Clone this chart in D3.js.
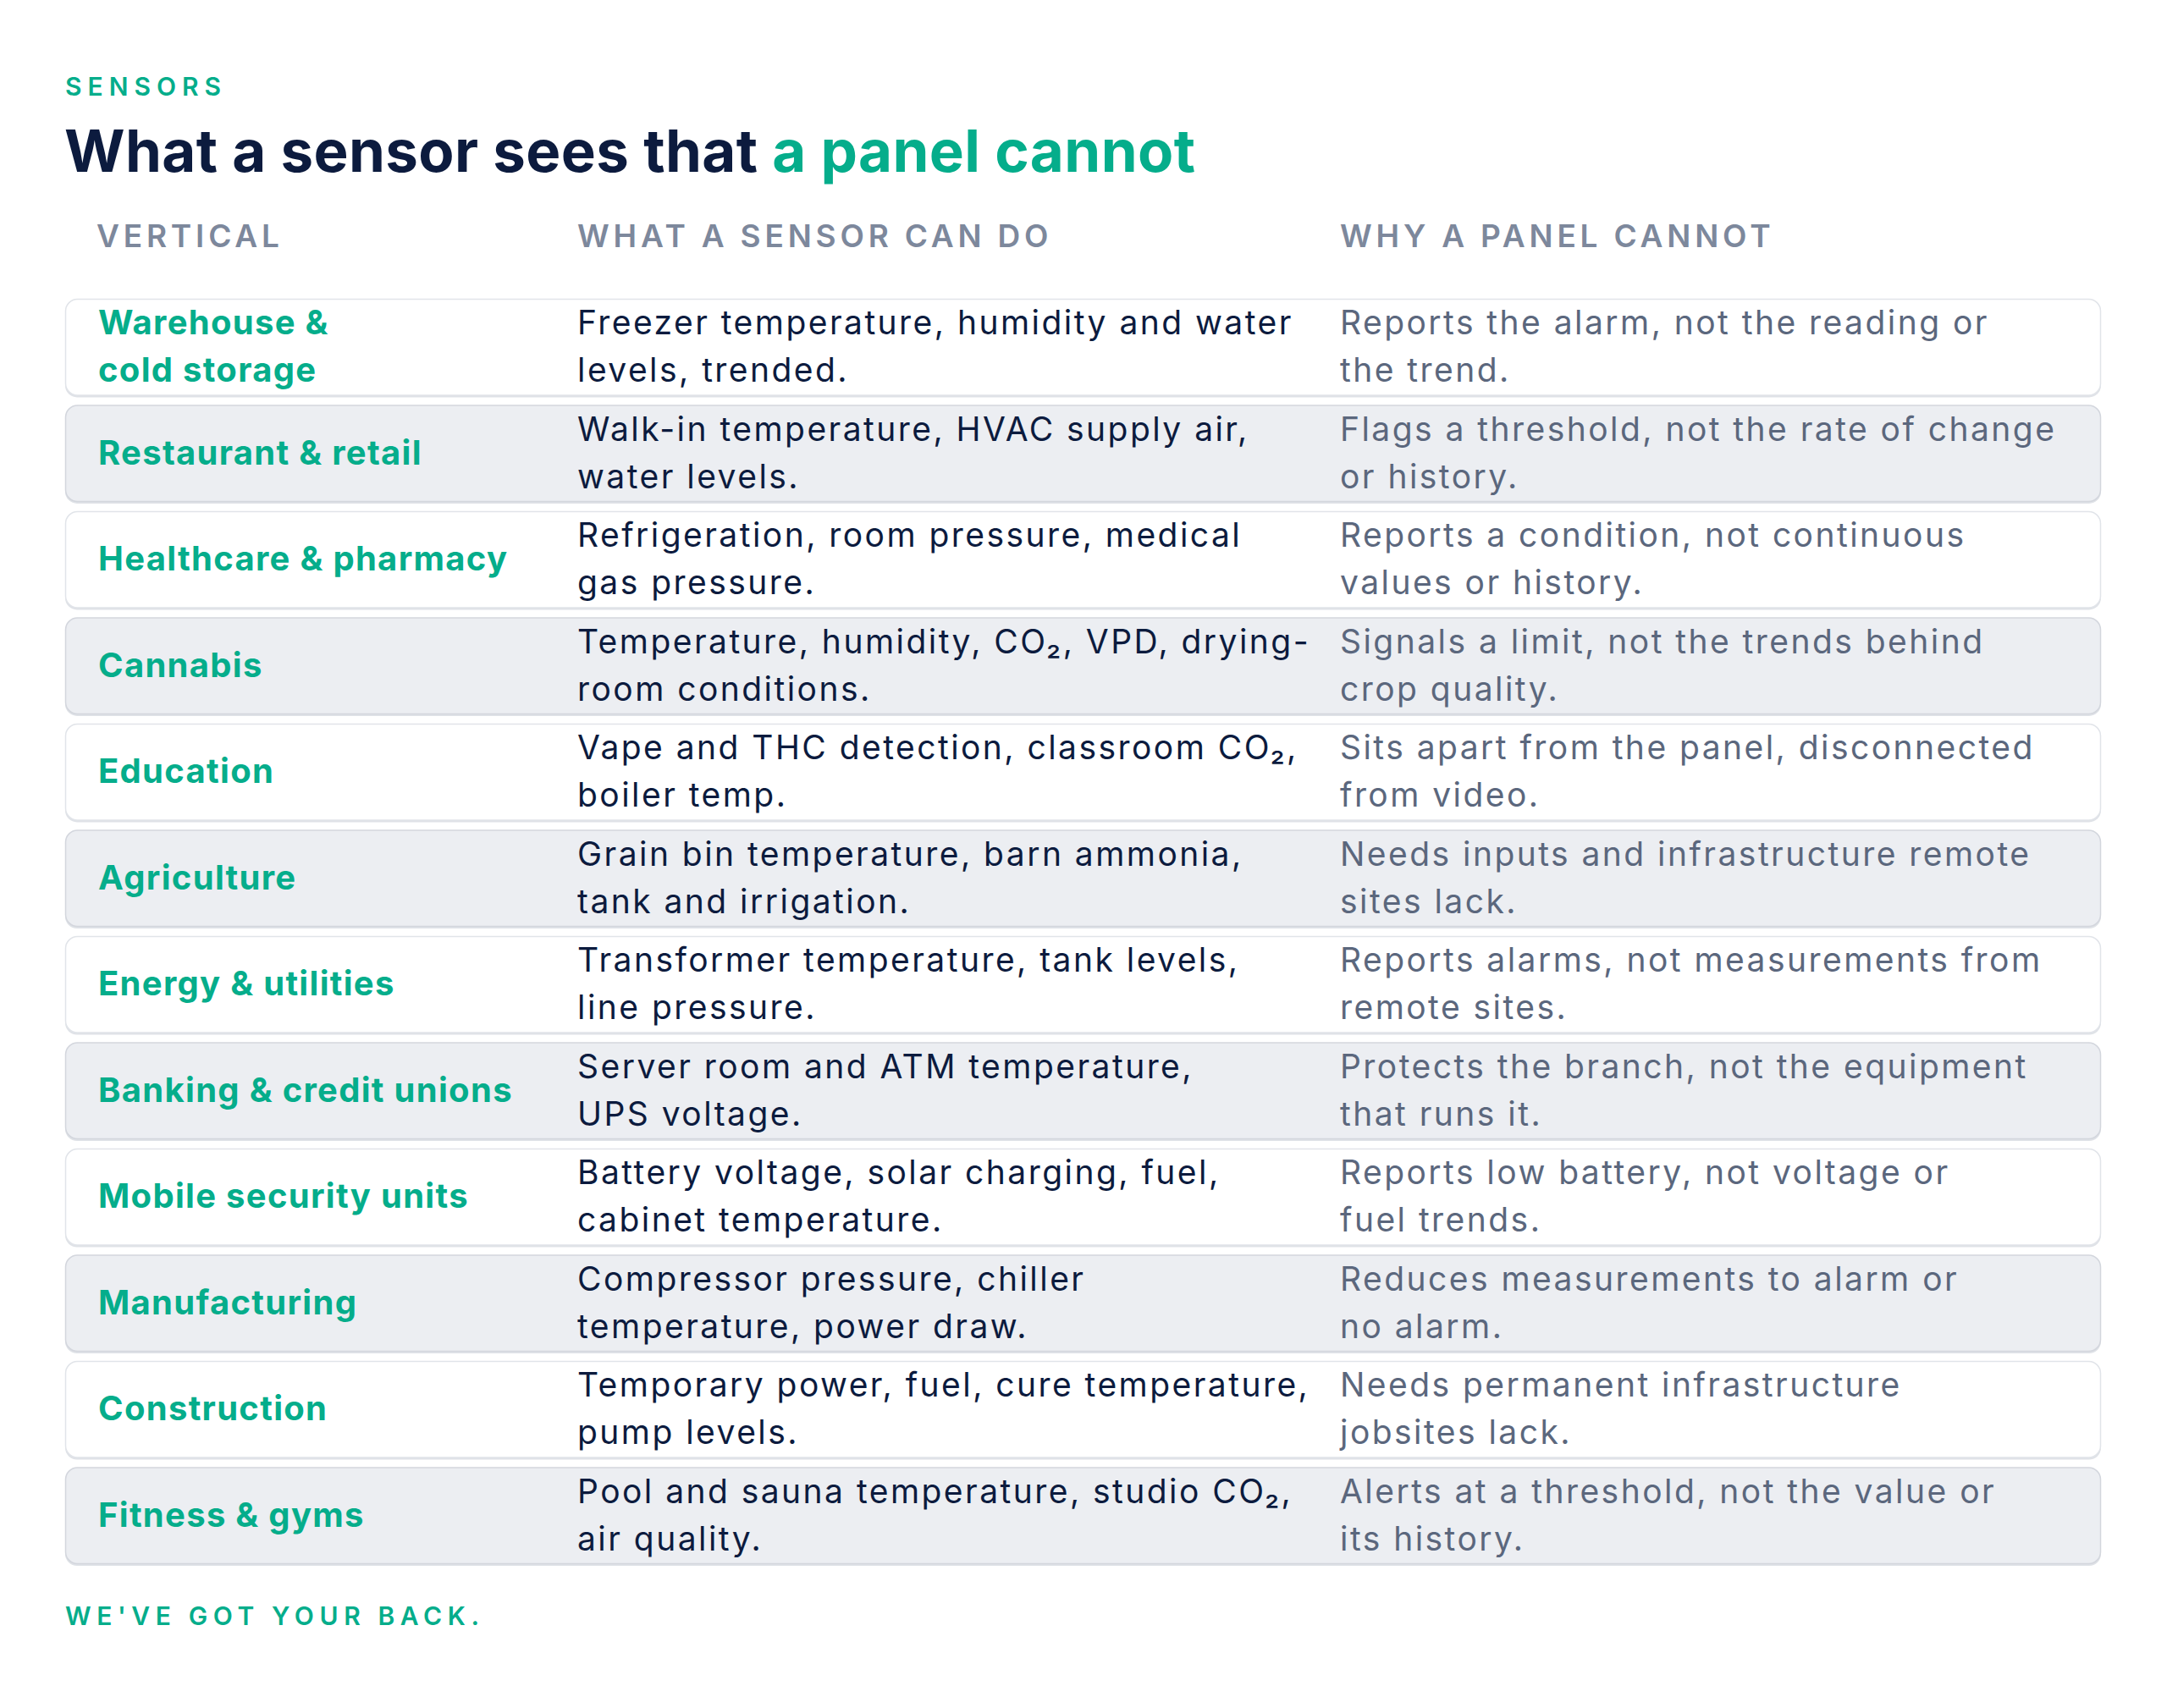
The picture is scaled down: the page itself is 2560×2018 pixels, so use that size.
<!DOCTYPE html>
<html>
<head>
<meta charset="utf-8">
<script src="https://cdn.jsdelivr.net/npm/d3@7"></script>
<style>
  html, body { margin: 0; padding: 0; background: #fff; }
  svg { display: block; font-family: Inter, "Noto Sans", sans-serif; }
</style>
</head>
<body>
<svg id="chart" width="2560" height="2018"></svg>
<script>
// table content, line breaks as in the reference
const eyebrow = "SENSORS";
const titleDark = "What a sensor sees that ";
const titleGreen = "a panel cannot";
const footer = "WE'VE GOT YOUR BACK.";
const headers = ["VERTICAL", "WHAT A SENSOR CAN DO", "WHY A PANEL CANNOT"];

const verticals = [
  ["Warehouse &", "cold storage"],
  ["Restaurant & retail"],
  ["Healthcare & pharmacy"],
  ["Cannabis"],
  ["Education"],
  ["Agriculture"],
  ["Energy & utilities"],
  ["Banking & credit unions"],
  ["Mobile security units"],
  ["Manufacturing"],
  ["Construction"],
  ["Fitness & gyms"]
];
const sensorCan = [
  ["Freezer temperature, humidity and water", "levels, trended."],
  ["Walk-in temperature, HVAC supply air,", "water levels."],
  ["Refrigeration, room pressure, medical", "gas pressure."],
  ["Temperature, humidity, CO₂, VPD, drying-", "room conditions."],
  ["Vape and THC detection, classroom CO₂,", "boiler temp."],
  ["Grain bin temperature, barn ammonia,", "tank and irrigation."],
  ["Transformer temperature, tank levels,", "line pressure."],
  ["Server room and ATM temperature,", "UPS voltage."],
  ["Battery voltage, solar charging, fuel,", "cabinet temperature."],
  ["Compressor pressure, chiller", "temperature, power draw."],
  ["Temporary power, fuel, cure temperature,", "pump levels."],
  ["Pool and sauna temperature, studio CO₂,", "air quality."]
];
const panelCannot = [
  ["Reports the alarm, not the reading or", "the trend."],
  ["Flags a threshold, not the rate of change", "or history."],
  ["Reports a condition, not continuous", "values or history."],
  ["Signals a limit, not the trends behind", "crop quality."],
  ["Sits apart from the panel, disconnected", "from video."],
  ["Needs inputs and infrastructure remote", "sites lack."],
  ["Reports alarms, not measurements from", "remote sites."],
  ["Protects the branch, not the equipment", "that runs it."],
  ["Reports low battery, not voltage or", "fuel trends."],
  ["Reduces measurements to alarm or", "no alarm."],
  ["Needs permanent infrastructure", "jobsites lack."],
  ["Alerts at a threshold, not the value or", "its history."]
];

const green = "#05ad8b", navy = "#0c1b3e", grey = "#5b677d", headGrey = "#7d889c";
const svg = d3.select("#chart");

const left = 77, right = 2482;
const colX = [116, 682, 1583];
const lineGap = 56;

svg.append("text").attr("x", 77).attr("y", 113)
  .attr("font-size", 30).attr("font-weight", 600).attr("letter-spacing", 7)
  .attr("fill", green).text(eyebrow);

const title = svg.append("text").attr("x", 76).attr("y", 203)
  .attr("font-size", 69).attr("font-weight", 700).attr("letter-spacing", 0.4);
title.append("tspan").attr("fill", navy).text(titleDark);
title.append("tspan").attr("fill", green).text(titleGreen);

svg.selectAll("text.head").data(headers).join("text")
  .attr("class", "head")
  .attr("x", (d, i) => i == 0 ? 114 : colX[i])
  .attr("y", 292)
  .attr("font-size", 37).attr("font-weight", 600).attr("letter-spacing", 4.8)
  .attr("fill", headGrey).text(d => d);

const y = d3.scaleBand()
  .domain(d3.range(verticals.length))
  .range([353, 1848])
  .paddingInner(0.088).paddingOuter(0);

const rows = svg.selectAll("g.row").data(verticals).join("g")
  .attr("class", "row")
  .attr("transform", (d, i) => `translate(0,${y(i)})`);

// soft bottom shadow, then the card
rows.append("rect").attr("x", left).attr("y", 2)
  .attr("width", right - left).attr("height", y.bandwidth())
  .attr("rx", 14).attr("fill", "#dfe2e7");
rows.append("rect").attr("x", left + 0.5).attr("y", 0.5)
  .attr("width", right - left - 1).attr("height", y.bandwidth() - 1)
  .attr("rx", 14)
  .attr("fill", (d, i) => i % 2 ? "#eceef2" : "#ffffff")
  .attr("stroke", (d, i) => i % 2 ? "#d3d6dd" : "#e1e4e9")
  .attr("stroke-width", 1.5);

function cellText(sel, lines, x, opts) {
  const mid = y.bandwidth() / 2;
  const t = sel.append("text").attr("x", x)
    .attr("font-size", opts.size).attr("font-weight", opts.weight)
    .attr("letter-spacing", opts.ls).attr("fill", opts.fill);
  lines.forEach((ln, k) => {
    t.append("tspan").attr("x", x)
      .attr("y", mid + 13 + (k - (lines.length - 1) / 2) * lineGap)
      .text(ln);
  });
}

rows.each(function(d, i) {
  const g = d3.select(this);
  cellText(g, verticals[i], colX[0], {size: 40, weight: 700, ls: 1.3, fill: green});
  cellText(g, sensorCan[i], colX[1], {size: 39, weight: 400, ls: 2.45, fill: navy});
  cellText(g, panelCannot[i], colX[2], {size: 39, weight: 400, ls: 2.45, fill: grey});
});

svg.append("text").attr("x", 77).attr("y", 1920)
  .attr("font-size", 30).attr("font-weight", 600).attr("letter-spacing", 6.6)
  .attr("fill", green).text(footer);
</script>
</body>
</html>
